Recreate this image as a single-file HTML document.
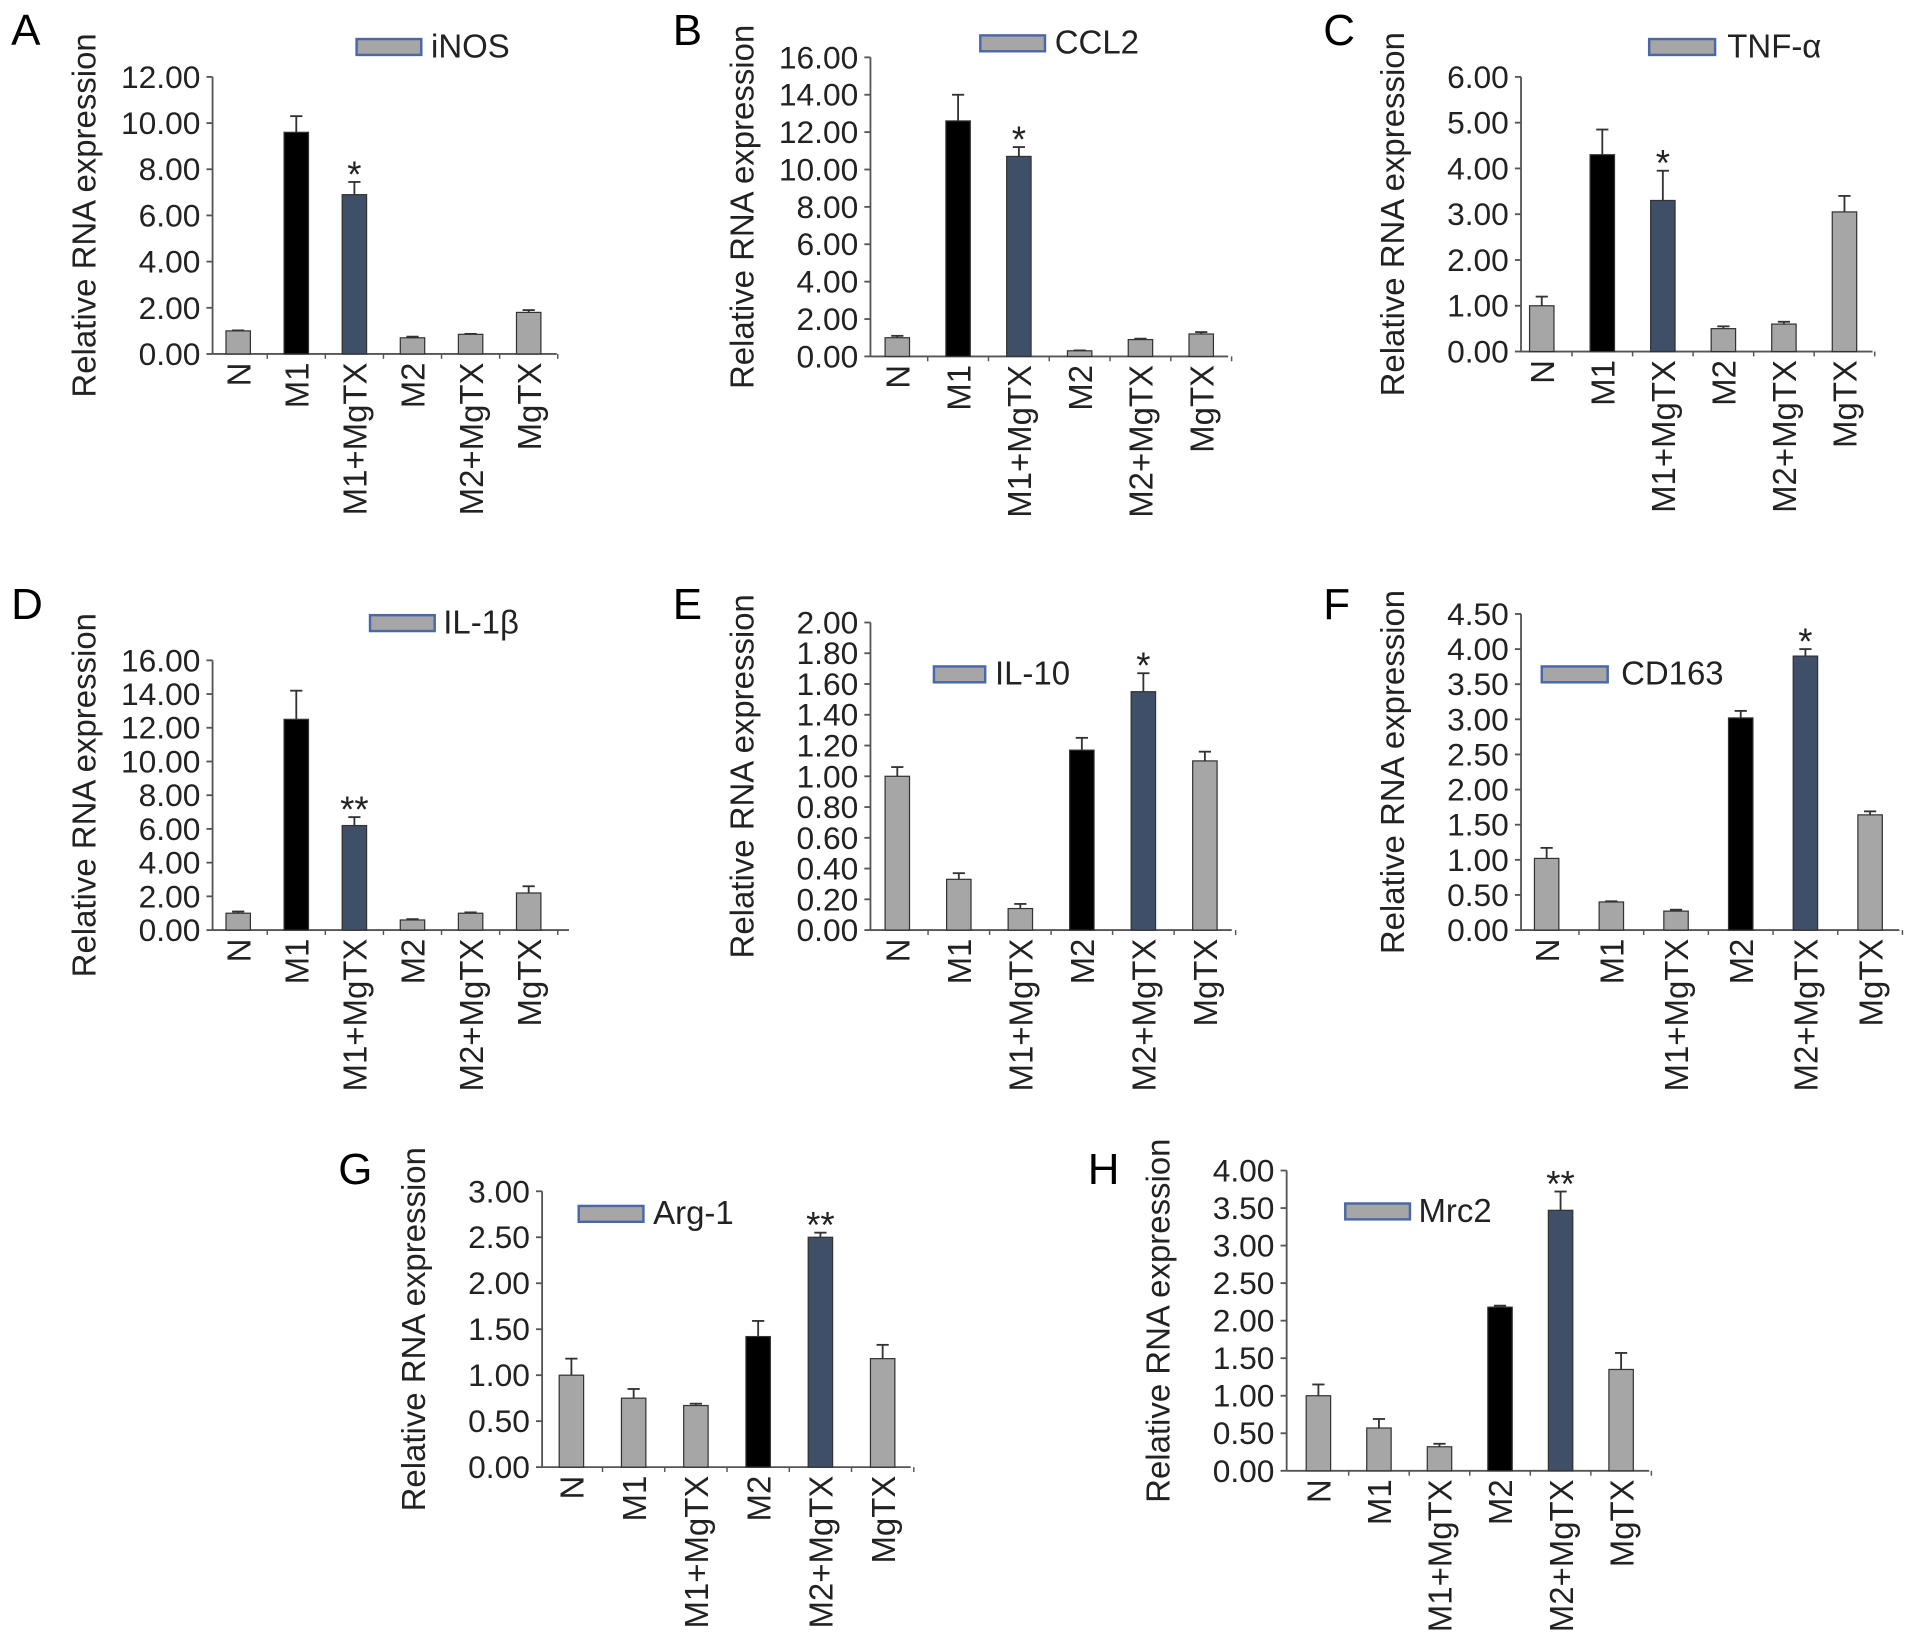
<!DOCTYPE html>
<html><head><meta charset="utf-8">
<style>
html,body{margin:0;padding:0;background:#fff;}
svg{display:block;font-family:"Liberation Sans",sans-serif;}
</style></head>
<body>
<svg id="fig" width="1913" height="1649" viewBox="0 0 1565 1351" xmlns="http://www.w3.org/2000/svg"></svg>
<script>
// ---- data ----
const categories = ["N","M1","M1+MgTX","M2","M2+MgTX","MgTX"];
const iNOSValues = [1.0, 9.6, 6.9, 0.7, 0.85, 1.8];
const iNOSErrors = [0.02, 0.7, 0.55, 0.05, 0.02, 0.1];
const ccl2Values = [1.0, 12.6, 10.7, 0.3, 0.9, 1.2];
const ccl2Errors = [0.1, 1.4, 0.5, 0.02, 0.05, 0.1];
const tnfValues = [1.0, 4.3, 3.3, 0.5, 0.6, 3.05];
const tnfErrors = [0.2, 0.55, 0.65, 0.05, 0.05, 0.35];
const il1bValues = [1.0, 12.5, 6.2, 0.6, 1.0, 2.2];
const il1bErrors = [0.1, 1.7, 0.5, 0.05, 0.05, 0.4];
const il10Values = [1.0, 0.33, 0.14, 1.17, 1.55, 1.10];
const il10Errors = [0.06, 0.04, 0.03, 0.08, 0.12, 0.06];
const cd163Values = [1.02, 0.40, 0.27, 3.02, 3.90, 1.64];
const cd163Errors = [0.15, 0.01, 0.02, 0.1, 0.1, 0.05];
const arg1Values = [1.0, 0.75, 0.67, 1.42, 2.50, 1.18];
const arg1Errors = [0.18, 0.1, 0.02, 0.17, 0.05, 0.15];
const mrc2Values = [1.0, 0.57, 0.32, 2.18, 3.47, 1.35];
const mrc2Errors = [0.15, 0.12, 0.04, 0.02, 0.25, 0.22];
const ticksA = [0,2,4,6,8,10,12];
const ticksB = [0,2,4,6,8,10,12,14,16];
const ticksC = [0,1,2,3,4,5,6];
const ticksD = [0,2,4,6,8,10,12,14,16];
const ticksE = [0,0.2,0.4,0.6,0.8,1.0,1.2,1.4,1.6,1.8,2.0];
const ticksF = [0,0.5,1,1.5,2,2.5,3,3.5,4,4.5];
const ticksG = [0,0.5,1,1.5,2,2.5,3];
const ticksH = [0,0.5,1,1.5,2,2.5,3,3.5,4];

const panels = [
 {id:"a",letter:"A",name:"iNOS",vals:iNOSValues,errs:iNOSErrors,ticks:ticksA,ax:173,y0:290,yTop:63,x0:194,dx:47.6,xEnd:455,leg:[291,32,352,53],hi:[1,2],star:[2,"*"]},
 {id:"b",letter:"B",name:"CCL2",vals:ccl2Values,errs:ccl2Errors,ticks:ticksB,ax:712,y0:292,yTop:47,x0:734,dx:49.8,xEnd:1005,leg:[802,29,863,53],hi:[1,2],star:[2,"*"]},
 {id:"c",letter:"C",name:"TNF-α",vals:tnfValues,errs:tnfErrors,ticks:ticksC,ax:1245,y0:288,yTop:63,x0:1262,dx:49.6,xEnd:1533,leg:[1350,32,1414,54],hi:[1,2],star:[2,"*"]},
 {id:"d",letter:"D",name:"IL-1β",vals:il1bValues,errs:il1bErrors,ticks:ticksD,ax:173,y0:762,yTop:541,x0:194,dx:47.6,xEnd:465,leg:[302,504,362,53],hi:[1,2],star:[2,"**"]},
 {id:"e",letter:"E",name:"IL-10",vals:il10Values,errs:il10Errors,ticks:ticksE,ax:712,y0:762,yTop:510,x0:734,dx:50.4,xEnd:1008,leg:[764,546,814,42],hi:[3,4],star:[4,"*"]},
 {id:"f",letter:"F",name:"CD163",vals:cd163Values,errs:cd163Errors,ticks:ticksF,ax:1245,y0:762,yTop:503,x0:1266,dx:53,xEnd:1555,leg:[1262,546,1327,54],hi:[3,4],star:[4,"*"]},
 {id:"g",letter:"G",name:"Arg-1",vals:arg1Values,errs:arg1Errors,ticks:ticksG,ax:443,y0:1202,yTop:976,x0:467,dx:51,xEnd:745,leg:[473,988,534,53],hi:[3,4],star:[4,"**"]},
 {id:"h",letter:"H",name:"Mrc2",vals:mrc2Values,errs:mrc2Errors,ticks:ticksH,ax:1053,y0:1205,yTop:959,x0:1079,dx:49.6,xEnd:1350,leg:[1101,986,1161,53],hi:[3,4],star:[4,"**"]},
];
const panelLetterPos = {A:[8,37],B:[550,37],C:[1083,37],D:[8,507],E:[550,507],F:[1083,507],G:[276,970],H:[890,970]};

const NS="http://www.w3.org/2000/svg";
const svg=document.getElementById("fig");
function mk(tag,attrs,parent){const e=document.createElementNS(NS,tag);for(const k in attrs)e.setAttribute(k,attrs[k]);(parent||svg).appendChild(e);return e;}
const FS=27;

panels.forEach(p=>{
  const g=mk("g",{});
  
  
  const maxT=p.ticks[p.ticks.length-1];
  const y=v=>p.y0-(v/maxT)*(p.y0-p.yTop);
  const x=i=>p.x0+i*p.dx;
  const lp=panelLetterPos[p.letter];
  const L=mk("text",{x:lp[0],y:lp[1],"font-size":36,fill:"#000"},g);
  L.textContent=p.letter;
  
  
  const tx=p.ax-96, ty=(p.y0+p.yTop)/2;
  const T=mk("text",{x:tx,y:ty,"font-size":FS,"text-anchor":"middle",transform:`rotate(-90 ${tx} ${ty})`,fill:"#222"},g);
  T.textContent="Relative RNA expression";
  
  
  const ya=mk("line",{x1:p.ax,y1:p.yTop,x2:p.ax,y2:p.y0,stroke:"#555","stroke-width":1.5},g);
  
  
  const xa=mk("line",{x1:p.ax,y1:p.y0,x2:p.xEnd,y2:p.y0,stroke:"#555","stroke-width":1.5},g);
  
  
  p.ticks.forEach(t=>{
    mk("line",{x1:p.ax-5,y1:y(t),x2:p.ax,y2:y(t),stroke:"#555","stroke-width":1.5},g);
    const tl=mk("text",{x:p.ax-10,y:y(t)+9,"font-size":FS-1,"text-anchor":"end",fill:"#222"},g);
    tl.textContent=t.toFixed(2);
    
    
  });
  p.vals.forEach((v,i)=>{
    const cx=x(i), w=20;
    let fill="#a6a6a6";
    if(i===p.hi[0]) fill="#000";
    if(i===p.hi[1]) fill="#3f4f68";
    const e=p.errs[i];
    mk("line",{x1:cx,y1:y(v+e),x2:cx,y2:y(v),stroke:"#333","stroke-width":1.5},g);
    mk("line",{x1:cx-5,y1:y(v+e),x2:cx+5,y2:y(v+e),stroke:"#333","stroke-width":1.5},g);
    const b=mk("rect",{x:cx-w/2,y:y(v),width:w,height:p.y0-y(v),fill:fill,stroke:"#333","stroke-width":1},g);
    
    
    mk("line",{x1:cx+p.dx/2,y1:p.y0,x2:cx+p.dx/2,y2:p.y0+4,stroke:"#555","stroke-width":1.2},g);
    const lx=cx+10, ly=p.y0+7;
    const cl=mk("text",{x:lx,y:ly,"font-size":FS,"text-anchor":"end",transform:`rotate(-90 ${lx} ${ly})`,fill:"#222"},g);
    cl.textContent=categories[i];
    
    
    if(i===p.star[0]){
      const s=mk("text",{x:cx,y:y(v+e)+4,"font-size":30,"text-anchor":"middle",fill:"#222"},g);
      s.textContent=p.star[1];
      
      
    }
  });
  const lr=mk("rect",{x:p.leg[0],y:p.leg[1],width:p.leg[3],height:13,fill:"#a6a6a6",stroke:"#4a68a8","stroke-width":2},g);
  
  
  const lt=mk("text",{x:p.leg[2],y:p.leg[1]+15,"font-size":FS,fill:"#222"},g);
  lt.textContent=p.name;
  
  
});
</script>
</body></html>
